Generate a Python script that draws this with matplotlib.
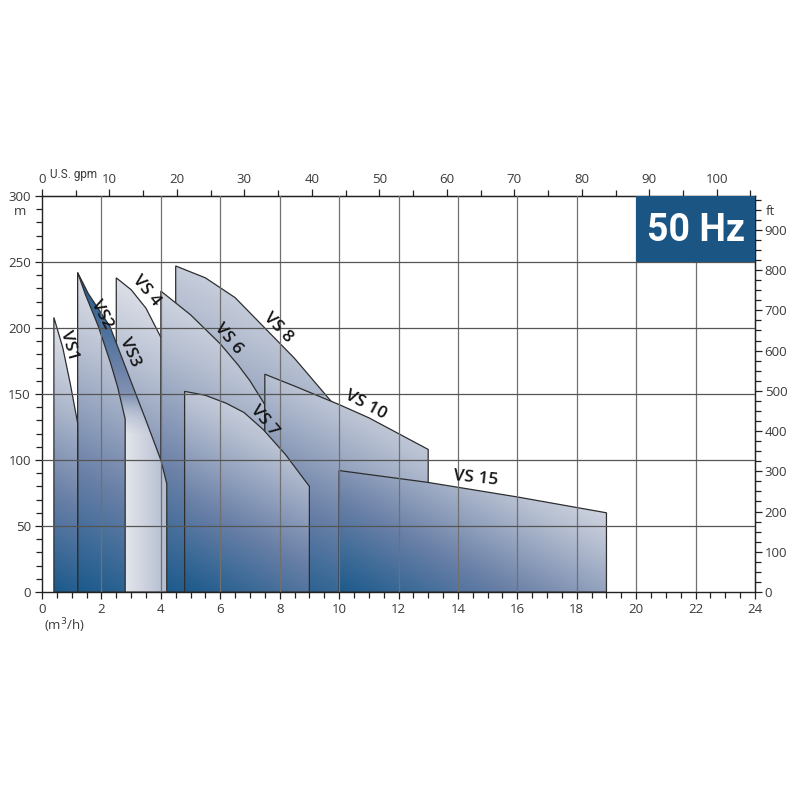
import numpy as np
import matplotlib
matplotlib.use('Agg')
import matplotlib.pyplot as plt
from matplotlib.patches import Polygon, Rectangle
from matplotlib.colors import LinearSegmentedColormap
from matplotlib.ticker import MultipleLocator

# pump curves: flow (m3/h) vs head (m)
vs1_x = [0.4, 0.7, 0.95, 1.2]
vs1_y = [208, 185, 158, 128]
vs2_x = [1.2, 1.45, 1.9, 2.3, 2.55, 2.8]
vs2_y = [242, 226, 201, 174, 155, 131]
vs3_x = [1.2, 1.56, 2.29, 3.02, 3.5, 4.0, 4.2]
vs3_y = [242, 226, 201, 158, 130, 100, 82]
vs4_x = [2.5, 3.0, 3.5, 4.0]
vs4_y = [238, 229, 215, 193]
vs6_x = [4.0, 5.0, 6.0, 6.6, 7.0, 7.5]
vs6_y = [228, 210, 188, 172, 160, 142]
vs8_x = [4.5, 5.5, 6.5, 7.5, 8.5, 9.75, 10.0]
vs8_y = [247, 238, 223, 200, 177, 144, 137]
vs10_x = [7.5, 8.5, 10.0, 11.0, 12.0, 13.0]
vs10_y = [165, 156, 142, 132, 120, 108]
vs7_x = [4.8, 5.5, 6.2, 6.8, 7.45, 8.2, 9.0]
vs7_y = [152, 149, 143, 136, 123, 104, 80]
vs15_x = [10, 13, 16, 19]
vs15_y = [92, 83, 72, 60]

GPM = 4.40287   # US gpm per m3/h
FT = 3.28084    # ft per m

cmap = LinearSegmentedColormap.from_list(
    'pump', [(0, '#1b5a8c'), (0.35, '#6a80a7'), (0.7, '#b6bfd1'), (1, '#e8e9ee')])

fig = plt.figure(figsize=(8, 8), dpi=100)
ax = fig.add_axes([0.0525, 0.26, 0.89125, 0.495])
ax.set_xlim(0, 24)
ax.set_ylim(0, 300)
px_x = 0.89125 * 800 / 24.0
px_y = 0.495 * 800 / 300.0


def outline(xs, ys):
    return [(xs[0], 0)] + list(zip(xs, ys)) + [(xs[-1], 0)]


def diag_t(gx, gy, x0, x1, y1, ang=62):
    w = (x1 - x0) * px_x
    h = y1 * px_y
    a = np.radians(ang)
    nx = (gx - x0) / (x1 - x0) * w
    ny = gy / y1 * h
    return (nx * np.cos(a) + ny * np.sin(a)) / (w * np.cos(a) + h * np.sin(a))


def shade(xs, ys, z, tfunc=None):
    x0, x1, y1 = min(xs), max(xs), max(ys)
    gx, gy = np.meshgrid(np.linspace(x0, x1, 300), np.linspace(0, y1, 300))
    if tfunc is None:
        t = diag_t(gx, gy, x0, x1, y1)
    else:
        t = tfunc(gx, gy)
    poly = Polygon(outline(xs, ys), closed=True, fc='none', ec='#2e2e2e',
                   lw=0.9, zorder=z + 0.5)
    ax.add_patch(poly)
    im = ax.imshow(cmap(np.clip(t, 0, 1)), extent=(x0, x1, 0, y1), origin='lower',
                   aspect='auto', zorder=z, interpolation='bilinear')
    im.set_clip_path(poly)


def vs3_t(gx, gy):
    # dark band above VS2, light cylinder-like strip below
    band = 0.0 + 0.55 * np.clip((vs3_y[0] - gy) / (vs3_y[0] - vs2_y[-1]), 0, 1)
    right = 0.97 - 0.3 * (gx - vs2_x[-1]) / (vs3_x[-1] - vs2_x[-1])
    w = np.clip((gy - vs2_y[-1] + 12) / 30.0, 0, 1)
    return w * band + (1 - w) * right


shade(vs8_x, vs8_y, 1)
shade(vs6_x, vs6_y, 2)
shade(vs4_x, vs4_y, 3)
shade(vs3_x, vs3_y, 4, vs3_t)
shade(vs2_x, vs2_y, 5)
shade(vs1_x, vs1_y, 5)
shade(vs10_x, vs10_y, 6)
shade(vs7_x, vs7_y, 7)
shade(vs15_x, vs15_y, 8)

# grid over the fills
for gx in range(2, 24, 2):
    ax.axvline(gx, color='#707070', lw=0.9, zorder=10)
for gy in range(50, 300, 50):
    ax.axhline(gy, color='#555555', lw=0.9, zorder=10)

# 50 Hz badge
ax.add_patch(Rectangle((20, 250), 4, 50, fc='#1b5584', ec='none', zorder=11))
ax.text(22, 274, '50 Hz', color='white', fontsize=27, fontweight='bold',
        family='Roboto', ha='center', va='center', zorder=12)

# curve names
names = ['VS1', 'VS2', 'VS3', 'VS 4', 'VS 6', 'VS 8', 'VS 7', 'VS 10', 'VS 15']
name_pos = [(0.91, 187, -74), (2.02, 210, -62), (2.96, 182, -66), (3.5, 228, -50),
            (6.26, 192, -50), (7.94, 200, -46), (7.47, 130, -50), (10.9, 142, -28),
            (14.6, 86, -6)]
for nm, (lx, ly, rot) in zip(names, name_pos):
    ax.text(lx, ly, nm, fontsize=12.5, fontweight='semibold', family='Open Sans',
            color='#151515', rotation=rot, rotation_mode='anchor',
            ha='center', va='center', zorder=13)

tick_font = dict(fontsize=9.5, family='Open Sans', color='#3a3a3a')

for sp in ax.spines.values():
    sp.set_linewidth(1.0)
    sp.set_color('#222222')
ax.xaxis.set_major_locator(MultipleLocator(2))
ax.xaxis.set_minor_locator(MultipleLocator(0.5))
ax.yaxis.set_major_locator(MultipleLocator(50))
ax.yaxis.set_minor_locator(MultipleLocator(10))
ax.tick_params(which='major', length=5, width=0.9, color='#222222', pad=3)
ax.tick_params(which='minor', length=4, width=0.9, color='#222222')
for lab in ax.get_xticklabels() + ax.get_yticklabels():
    lab.set(**tick_font)

top = ax.secondary_xaxis('top', functions=(lambda q: q * GPM, lambda g: g / GPM))
top.xaxis.set_major_locator(MultipleLocator(10))
top.xaxis.set_minor_locator(MultipleLocator(5))
top.tick_params(which='major', length=5, width=0.9, color='#222222', pad=2)
top.tick_params(which='minor', length=4, width=0.9, color='#222222')
for lab in top.get_xticklabels():
    lab.set(**tick_font)

right = ax.secondary_yaxis('right', functions=(lambda m: m * FT, lambda f: f / FT))
right.yaxis.set_major_locator(MultipleLocator(100))
right.yaxis.set_minor_locator(MultipleLocator(25))
right.tick_params(which='major', length=5, width=0.9, color='#222222', pad=2)
right.tick_params(which='minor', length=4, width=0.9, color='#222222')
for lab in right.get_yticklabels():
    lab.set(**tick_font)

ax.text(0.011, 1.038, 'U.S. gpm', transform=ax.transAxes, ha='left', va='bottom',
        fontsize=8.5, family='Roboto', color='#3a3a3a')
ax.text(-0.022, 0.96, 'm', transform=ax.transAxes, ha='right', va='center', **tick_font)
ax.text(1.015, 0.962, 'ft', transform=ax.transAxes, ha='left', va='center', **tick_font)
ax.text(0.003, -0.062, '(m$^3$/h)', transform=ax.transAxes, ha='left', va='top', **tick_font)

fig.savefig('out.png', dpi=100, facecolor='white')
